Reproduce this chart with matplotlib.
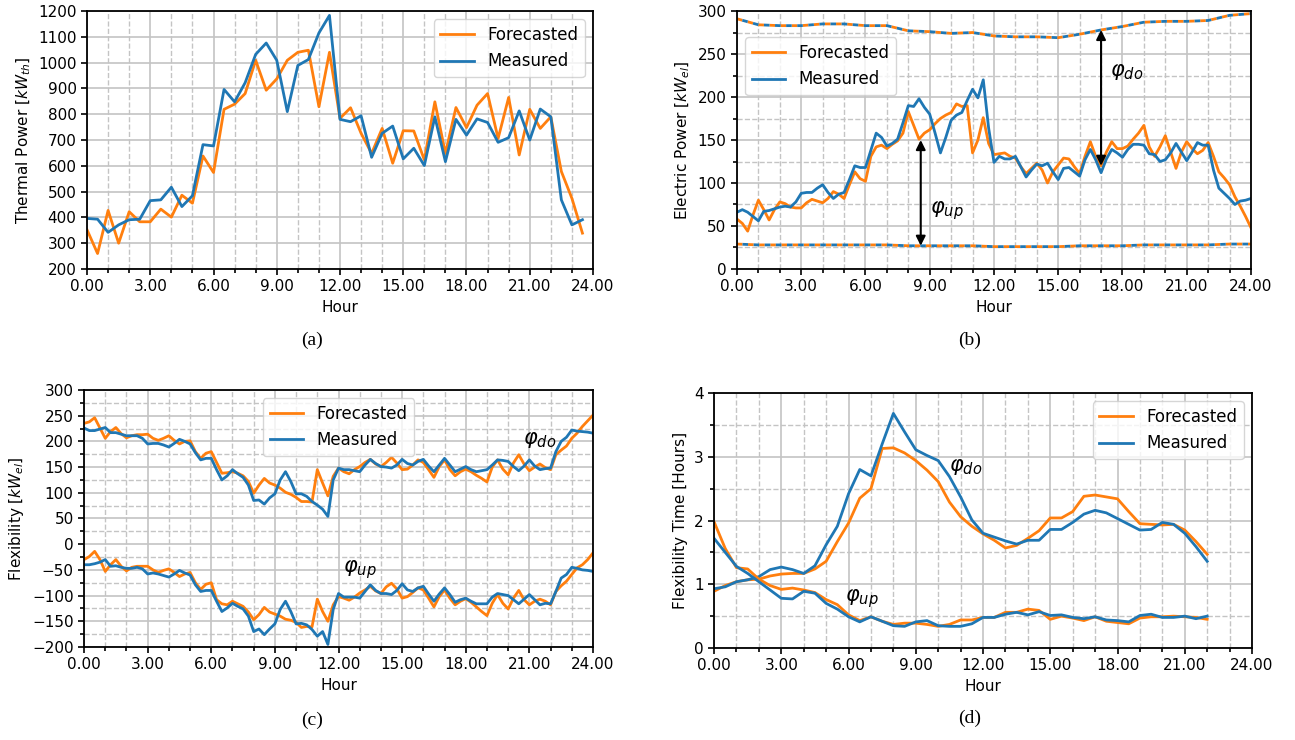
import numpy as np
import matplotlib
matplotlib.use('Agg')
import matplotlib.pyplot as plt
from matplotlib.ticker import MultipleLocator, FormatStrFormatter

# ---- (a) thermal power, 30 min steps ----
hours_a = np.arange(0, 24, 0.5)
thermal_fc = [352, 260, 427, 300, 422, 383, 383, 432, 401, 486, 455, 638,
              574, 819, 839, 880, 1009, 893, 937, 1009, 1040, 1048, 829, 1040,
              784, 825, 726, 648, 745, 610, 736, 735, 623, 848, 648, 826,
              748, 835, 880, 706, 865, 642, 819, 745, 790, 578, 474, 339]
thermal_ms = [396, 393, 342, 371, 391, 393, 465, 468, 517, 442, 484, 682,
              677, 896, 848, 922, 1032, 1076, 1009, 810, 989, 1012, 1115, 1183,
              780, 771, 794, 633, 726, 754, 627, 668, 601, 790, 616, 780,
              719, 782, 768, 691, 709, 813, 700, 820, 790, 468, 371, 391]

# ---- (b) electric power, 15 min steps ----
hours_b = np.arange(0, 24.01, 0.25)
elec_fc = [58, 53, 44, 63, 80, 69, 57, 69, 78, 76, 72, 71, 71, 77, 81, 79,
           77, 82, 90, 87, 82, 98, 113, 105, 102,
           131, 142, 144, 140, 145, 149, 158, 183, 167, 151, 158, 162, 169, 175,
           179, 182, 192, 189, 190, 135, 150, 176, 146, 133,
           134, 135, 131, 129, 119, 111, 117, 123, 115, 100, 113, 121, 129, 128,
           119, 111, 131, 148, 131, 120, 136, 148, 140, 140,
           143, 151, 158, 167, 142, 131, 142, 155, 136, 117, 136, 148, 140, 134,
           138, 147, 131, 113, 106, 98, 84, 73, 61, 48]
elec_ms = [66, 69, 66, 61, 56, 67, 68, 70, 72, 73, 72, 78, 88, 89, 89, 94,
           98, 89, 82, 87, 89, 104, 120, 118, 118,
           138, 158, 153, 143, 146, 151, 170, 190, 189, 198, 188, 180, 158, 135,
           153, 173, 179, 182, 196, 209, 199, 220, 164, 124,
           131, 128, 128, 131, 119, 107, 115, 122, 120, 123, 113, 104, 117, 118,
           113, 108, 127, 139, 127, 112, 128, 139, 135, 130,
           139, 145, 145, 144, 134, 133, 125, 127, 135, 146, 136, 126, 136, 147,
           144, 144, 115, 94, 88, 82, 75, 79, 80, 82]
hours_lim = np.arange(0, 25)
p_max = [291, 284, 283, 283, 285, 285, 283, 283, 277, 276, 274, 275, 271,
         270, 270, 269, 273, 278, 282, 287, 288, 288, 289, 295, 297]
p_min = [29, 28, 28, 28, 28, 28, 28, 28, 27, 27, 27, 27, 26,
         26, 26, 26, 27, 27, 27, 28, 28, 28, 28, 29, 29]

# ---- (c) flexibility, 15 min steps ----
flex_do_fc = [235, 238, 246, 226, 206, 219, 227, 215, 207, 211, 213, 213, 214,
              206, 202, 206, 211, 202, 195, 200, 201, 180, 167, 177, 180,
              159, 138, 139, 141, 138, 133, 122, 99, 115, 128, 119, 115, 109,
              101, 97, 91, 83, 83, 82, 145, 119, 94, 132, 148,
              141, 137, 145, 151, 159, 165, 156, 151, 159, 169, 158, 145, 146,
              154, 164, 159, 145, 130, 151, 164, 145, 133, 141, 146,
              141, 134, 128, 121, 150, 164, 146, 135, 158, 174, 156, 143, 150,
              156, 149, 145, 174, 183, 191, 206, 216, 229, 240, 251]
flex_do_ms = [226, 221, 221, 224, 227, 217, 217, 214, 211, 211, 211, 206, 195,
              196, 196, 193, 189, 196, 204, 200, 195, 178, 164, 167, 167,
              145, 125, 133, 145, 137, 130, 115, 85, 86, 78, 90, 98, 125,
              141, 122, 98, 98, 93, 83, 76, 68, 54, 125, 148,
              145, 145, 143, 141, 154, 165, 157, 151, 150, 148, 154, 165, 157,
              154, 161, 165, 152, 141, 154, 167, 154, 141, 146, 151,
              145, 141, 143, 145, 154, 164, 163, 161, 151, 143, 152, 164, 152,
              145, 147, 148, 180, 200, 208, 222, 220, 219, 218, 216]
flex_up_fc = [-30, -24, -14, -30, -53, -40, -30, -43, -52, -45, -43, -43, -43,
              -50, -55, -51, -48, -55, -63, -58, -55, -75, -88, -78, -75,
              -108, -116, -118, -111, -116, -121, -132, -147, -137, -123, -132,
              -136, -140, -146, -148, -152, -162, -160, -161, -107, -131, -150,
              -118, -102,
              -105, -109, -103, -95, -89, -82, -91, -96, -83, -76, -87, -105,
              -102, -94, -85, -89, -105, -122, -102, -89, -105, -118, -111, -106,
              -113, -122, -131, -139, -115, -98, -115, -126, -105, -90, -108,
              -118, -111, -107, -111, -118, -92, -81, -72, -59, -46, -40, -30, -17]
flex_up_ms = [-40, -40, -38, -35, -30, -43, -42, -45, -47, -47, -45, -48, -58,
              -56, -58, -61, -64, -58, -51, -56, -60, -79, -92, -90, -90,
              -111, -131, -124, -115, -121, -126, -140, -170, -165, -176, -165,
              -155, -127, -111, -131, -155, -154, -157, -166, -179, -170, -195,
              -127, -96,
              -103, -103, -103, -105, -92, -79, -90, -96, -96, -98, -90, -77,
              -89, -92, -85, -82, -97, -111, -97, -85, -98, -113, -108, -105,
              -111, -116, -116, -116, -103, -96, -98, -100, -108, -116, -107,
              -98, -108, -118, -115, -116, -92, -66, -59, -45, -47, -50, -51, -53]

# ---- (d) flexibility time, 30 min steps ----
hours_d = np.arange(0, 22.01, 0.5)
time_do_fc = [0.89, 0.98, 1.04, 1.07, 1.08, 1.13, 1.16, 1.17, 1.17, 1.24, 1.36,
              1.67, 1.96, 2.35, 2.50, 3.13, 3.14, 3.06, 2.94, 2.79, 2.61, 2.29,
              2.06, 1.91, 1.79, 1.69, 1.57, 1.61, 1.72, 1.84, 2.04, 2.04, 2.14,
              2.38, 2.40, 2.37, 2.34, 2.14, 1.95, 1.94, 1.93, 1.94, 1.85, 1.67, 1.47]
time_do_ms = [0.93, 0.96, 1.04, 1.07, 1.12, 1.23, 1.27, 1.23, 1.17, 1.29, 1.62,
              1.91, 2.42, 2.80, 2.70, 3.20, 3.68, 3.39, 3.11, 3.02, 2.94, 2.69,
              2.37, 2.01, 1.80, 1.74, 1.68, 1.63, 1.69, 1.69, 1.86, 1.86, 1.97,
              2.10, 2.16, 2.12, 2.03, 1.94, 1.85, 1.86, 1.97, 1.94, 1.80, 1.59, 1.36]
time_up_fc = [1.98, 1.56, 1.26, 1.24, 1.08, 0.98, 0.92, 0.94, 0.91, 0.87, 0.76,
              0.68, 0.52, 0.43, 0.49, 0.42, 0.37, 0.39, 0.39, 0.37, 0.34, 0.37,
              0.44, 0.44, 0.48, 0.48, 0.56, 0.56, 0.61, 0.59, 0.45, 0.50, 0.47,
              0.43, 0.49, 0.42, 0.40, 0.38, 0.47, 0.49, 0.49, 0.50, 0.49, 0.48, 0.45]
time_up_ms = [1.72, 1.50, 1.28, 1.17, 1.04, 0.91, 0.78, 0.77, 0.89, 0.86, 0.70,
              0.61, 0.49, 0.41, 0.49, 0.42, 0.35, 0.34, 0.41, 0.43, 0.35, 0.34,
              0.34, 0.38, 0.48, 0.48, 0.53, 0.56, 0.52, 0.57, 0.51, 0.52, 0.48,
              0.46, 0.49, 0.44, 0.43, 0.41, 0.51, 0.53, 0.48, 0.48, 0.50, 0.46, 0.50]

ORANGE = '#ff7f0e'
BLUE = '#1f77b4'
LW = 2.0
FS = 11


def style_axes(ax, ylim, ymajor, yminor=None):
    ax.set_xlim(0, 24)
    ax.set_ylim(*ylim)
    ax.xaxis.set_major_locator(MultipleLocator(3))
    ax.xaxis.set_minor_locator(MultipleLocator(1))
    ax.xaxis.set_major_formatter(FormatStrFormatter('%.2f'))
    ax.yaxis.set_major_locator(MultipleLocator(ymajor))
    if yminor is not None:
        ax.yaxis.set_minor_locator(MultipleLocator(yminor))
    ax.grid(True, which='major', color='#c4c4c4', lw=1.2, ls='-')
    ax.grid(True, which='minor', color='#c4c4c4', lw=1.0, ls='--')
    ax.set_axisbelow(True)
    ax.tick_params(which='both', direction='out', labelsize=FS, width=1.2)
    ax.tick_params(which='major', length=4)
    ax.tick_params(which='minor', length=3)
    for s in ax.spines.values():
        s.set_linewidth(1.3)
    ax.set_xlabel('Hour', fontsize=FS)


fig = plt.figure(figsize=(12.95, 7.40), dpi=100)
ax_a = fig.add_axes([0.0672, 0.6365, 0.3907, 0.3486])
ax_b = fig.add_axes([0.5691, 0.6365, 0.3969, 0.3486])
ax_c = fig.add_axes([0.0649, 0.1257, 0.3930, 0.3473])
ax_d = fig.add_axes([0.5514, 0.1243, 0.4154, 0.3446])

# (a)
ax_a.plot(hours_a, thermal_fc, color=ORANGE, lw=LW, label='Forecasted')
ax_a.plot(hours_a, thermal_ms, color=BLUE, lw=LW, label='Measured')
style_axes(ax_a, (200, 1200), 100)
ax_a.set_ylabel('Thermal Power [$kW_{th}$]', fontsize=FS)
ax_a.legend(loc='upper right', fontsize=FS + 1)

# (b)
ax_b.plot(hours_b, elec_fc, color=ORANGE, lw=LW, label='Forecasted')
ax_b.plot(hours_b, elec_ms, color=BLUE, lw=LW, label='Measured')
for lim in (p_max, p_min):
    ax_b.plot(hours_lim, lim, color=ORANGE, lw=LW, ls=(0, (2, 2)))
    ax_b.plot(hours_lim, lim, color=BLUE, lw=LW, ls=(2, (2, 2)))
style_axes(ax_b, (0, 300), 50, 25)
ax_b.set_ylabel('Electric Power [$kW_{el}$]', fontsize=FS)
ax_b.legend(loc='upper left', bbox_to_anchor=(0, 0.93), fontsize=FS + 1)
arrow = dict(arrowstyle='<|-|>', color='black', lw=1.5, mutation_scale=14,
             shrinkA=0, shrinkB=0)
ax_b.annotate('', xy=(8.58, 27), xytext=(8.58, 150), arrowprops=arrow)
ax_b.annotate('', xy=(17.0, 278), xytext=(17.0, 120), arrowprops=arrow)
ax_b.text(9.0, 68, r'$\varphi_{up}$', fontsize=15, va='center')
ax_b.text(17.4, 229, r'$\varphi_{do}$', fontsize=15, va='center')

# (c)
ax_c.plot(hours_b, flex_do_fc, color=ORANGE, lw=LW, label='Forecasted')
ax_c.plot(hours_b, flex_do_ms, color=BLUE, lw=LW, label='Measured')
ax_c.plot(hours_b, flex_up_fc, color=ORANGE, lw=LW)
ax_c.plot(hours_b, flex_up_ms, color=BLUE, lw=LW)
style_axes(ax_c, (-200, 300), 50, 25)
ax_c.set_ylabel('Flexibility [$kW_{el}$]', fontsize=FS)
ax_c.legend(loc='upper center', fontsize=FS + 1)
ax_c.text(20.7, 203, r'$\varphi_{do}$', fontsize=15, va='center')
ax_c.text(12.2, -50, r'$\varphi_{up}$', fontsize=15, va='center')

# (d)
ax_d.plot(hours_d, time_do_fc, color=ORANGE, lw=LW, label='Forecasted')
ax_d.plot(hours_d, time_do_ms, color=BLUE, lw=LW, label='Measured')
ax_d.plot(hours_d, time_up_fc, color=ORANGE, lw=LW)
ax_d.plot(hours_d, time_up_ms, color=BLUE, lw=LW)
style_axes(ax_d, (0, 4), 1, 0.5)
ax_d.set_ylabel('Flexibility Time [Hours]', fontsize=FS)
ax_d.legend(loc='upper right', fontsize=FS + 1)
ax_d.text(10.5, 2.84, r'$\varphi_{do}$', fontsize=15, va='center')
ax_d.text(5.85, 0.78, r'$\varphi_{up}$', fontsize=15, va='center')

for x, y, s in [(0.241, 0.54, '(a)'), (0.749, 0.54, '(b)'),
                (0.241, 0.026, '(c)'), (0.749, 0.029, '(d)')]:
    fig.text(x, y, s, ha='center', va='center', fontsize=14,
             family='Liberation Serif')

fig.savefig('out.png', dpi=100)
